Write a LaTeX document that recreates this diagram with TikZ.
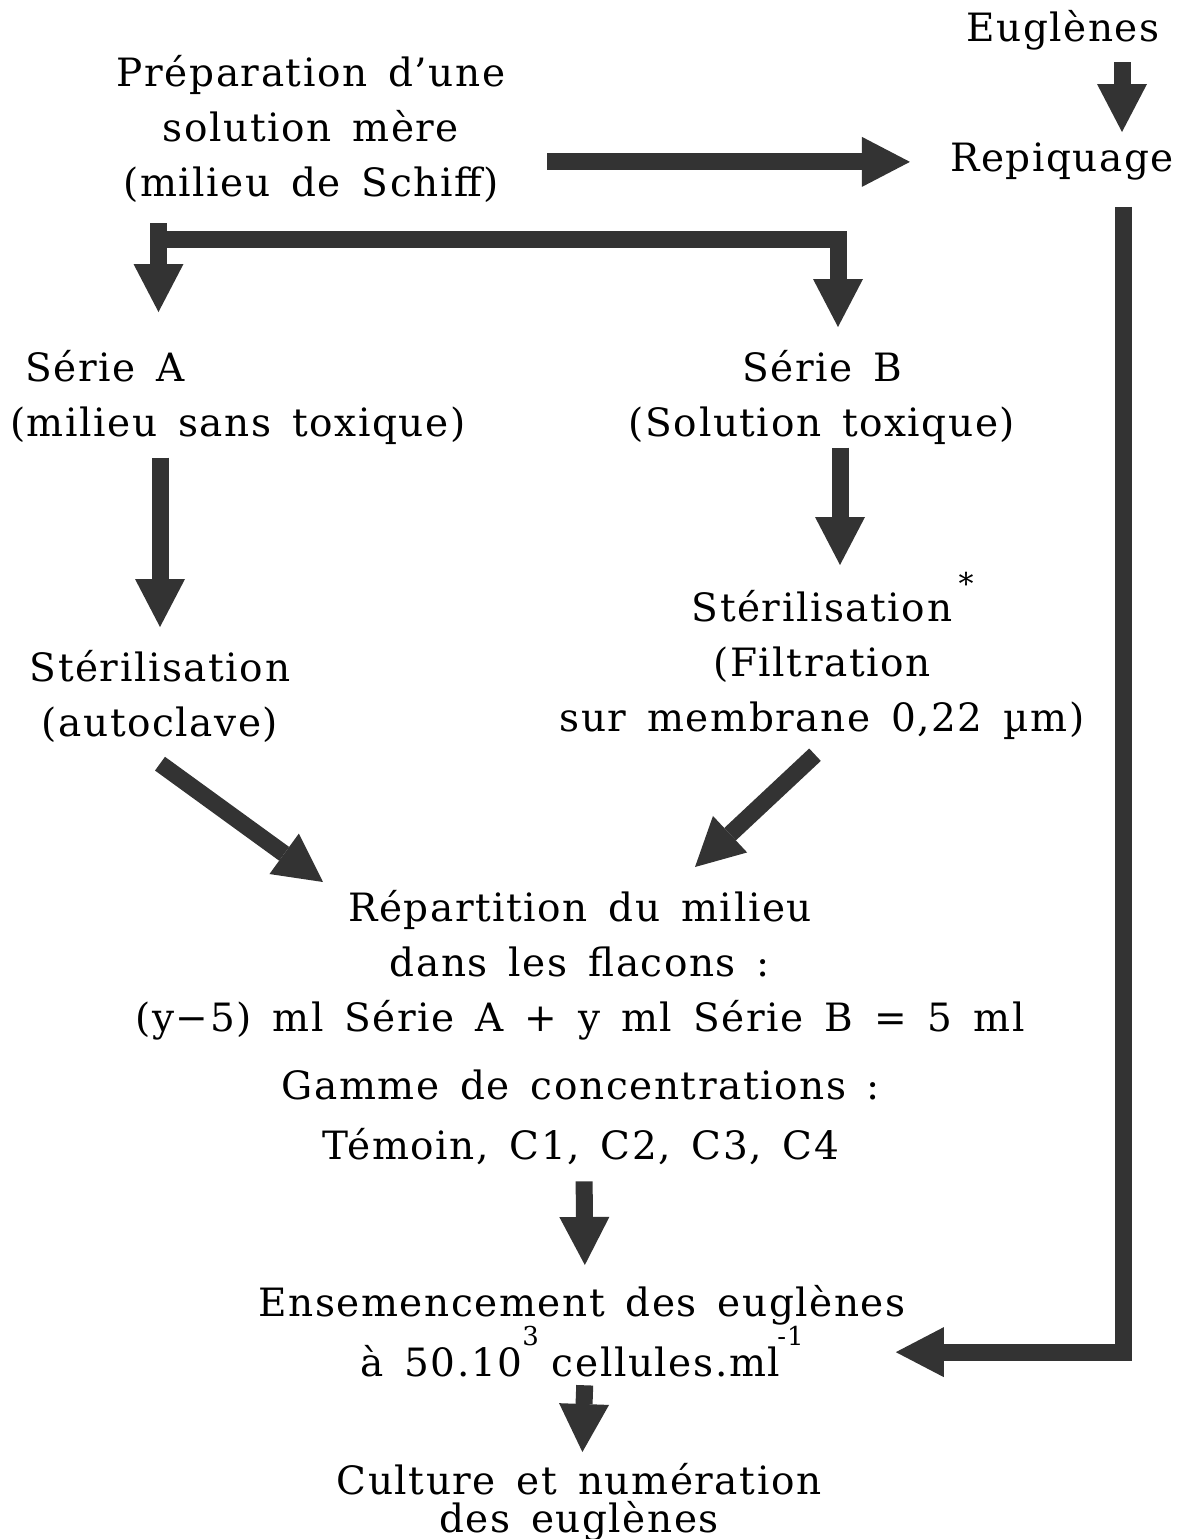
\documentclass[tikz,border=0pt]{standalone}
\usepackage{fontspec}
\setmainfont{DejaVu Serif}[LetterSpace=4.0,WordSpace=1.5]
\usetikzlibrary{arrows.meta,calc}
\definecolor{arrowgray}{gray}{0.2}
\tikzset{
  fat/.style={line width=17pt, draw=arrowgray, line join=miter,
    -{Triangle[width=50pt,length=48pt,line width=0pt]}},
  txt/.style={inner sep=0pt, align=center, anchor=north}
}
\newcommand{\expo}[1]{\raisebox{0.8em}{\fontsize{26}{26}\selectfont #1}}
\begin{document}
\begin{tikzpicture}[x=1pt, y=-1pt, font=\fontsize{39}{55}\selectfont]
\useasboundingbox (0,0) rectangle (1179,1539);
\node[txt] (eug) at (1063,10) {Euglènes};
\node[txt] (rep) at (1062,143) {Repiquage};
\node[txt] (prep) at (311,55) {Préparation d'une\\solution mère\\(milieu de Schiff)};
\node[txt, align=left, anchor=north west] (serA) at (10,350) {\hphantom{(}Série A\\(milieu sans toxique)};
\node[txt] (serB) at (822,350) {Série B\\(Solution toxique)};
\node[txt] (steA) at (160,650) {Stérilisation\\(autoclave)};
\node[txt] (steB) at (822,590) {Stérilisation\rlap{\,\smash{\raisebox{0.7em}{\fontsize{30}{30}\selectfont *}}}\\(Filtration\\sur membrane 0,22 µm)};
\node[txt] (repa) at (580,890) {Répartition du milieu\\dans les flacons :\\(y−5) ml Série A + y ml Série B = 5 ml};
\node[txt, font=\fontsize{39}{60}\selectfont] (gam) at (581,1070) {Gamme de concentrations :\\Témoin, C1, C2, C3, C4};
\node[txt] (ens) at (582,1285) {Ensemencement des euglènes\\à 50.10\expo{3}\hspace{-0.2em} cellules.ml\expo{\hspace{-0.1em}-1}};
\node[txt, font=\fontsize{39}{38}\selectfont] (cult) at (579,1463) {Culture et numération\\des euglènes};
\coordinate (split) at (150,239);
\draw[fat, shorten <=12pt, shorten >=11pt] ([xshift=59pt]eug.south) -- ([xshift=60pt]rep.north);
\draw[fat, shorten <=42pt, shorten >=40pt] (prep.east |- rep.west) -- (rep.west);
\draw[fat, shorten >=23pt] (split) -| ([xshift=16pt]serB.north);
\draw[fat, shorten >=38pt] ([xshift=8.5pt,yshift=16pt]split) -- ([xshift=8.5pt]split |- serA.north);
\draw[fat, shorten <=13pt, shorten >=23pt] (serA.south -| steA.north) -- (steA.north);
\draw[fat, shorten <=3pt, shorten >=25pt] ([xshift=18pt]serB.south) -- ([xshift=18pt]steB.north);
\draw[fat] ([yshift=-21pt]steA.south) -- ([xshift=-257pt,yshift=8pt]repa.north);
\draw[fat] ([xshift=-7pt,yshift=-15pt]steB.south) -- ([xshift=115pt,yshift=23pt]repa.north);
\draw[fat, shorten <=16pt, shorten >=20pt] ([xshift=3pt]gam.south) -- ([xshift=3pt]ens.north);
\draw[fat, shorten <=8pt, shorten >=11pt] ([xshift=3pt]ens.south) -- ([xshift=3pt]cult.north);
\draw[fat] ([xshift=61pt,yshift=-26pt]rep.south) |- ([xshift=-10pt,yshift=-21pt]ens.east);
\end{tikzpicture}
\end{document}
